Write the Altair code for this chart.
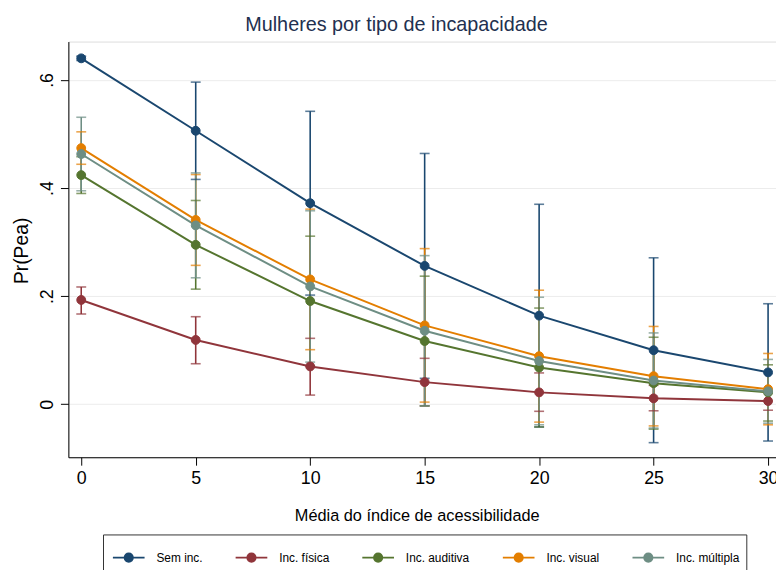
import altair as alt
import pandas as pd

# ---- data ----
x_vals = [0, 5, 10, 15, 20, 25, 30]
series = ["Sem inc.", "Inc. física", "Inc. auditiva", "Inc. visual", "Inc. múltipla"]
colors = ["#1a476f", "#90353b", "#55752f", "#e37e00", "#6e8e84"]

sem = [0.640, 0.506, 0.372, 0.256, 0.164, 0.100, 0.059]
sem_lo = [0.636, 0.416, 0.202, 0.048, -0.042, -0.071, -0.068]
sem_hi = [0.644, 0.596, 0.542, 0.464, 0.370, 0.271, 0.186]

fis = [0.193, 0.119, 0.070, 0.041, 0.022, 0.011, 0.006]
fis_lo = [0.167, 0.075, 0.017, -0.003, -0.013, -0.012, -0.011]
fis_hi = [0.217, 0.162, 0.122, 0.085, 0.058, 0.035, 0.023]

aud = [0.424, 0.295, 0.191, 0.117, 0.068, 0.039, 0.022]
aud_lo = [0.390, 0.213, 0.071, -0.003, -0.042, -0.046, -0.031]
aud_hi = [0.458, 0.377, 0.311, 0.237, 0.178, 0.124, 0.073]

vis = [0.474, 0.341, 0.231, 0.146, 0.089, 0.052, 0.028]
vis_lo = [0.444, 0.257, 0.101, 0.004, -0.033, -0.040, -0.038]
vis_hi = [0.504, 0.425, 0.361, 0.288, 0.211, 0.144, 0.094]

mul = [0.463, 0.331, 0.218, 0.136, 0.080, 0.044, 0.024]
mul_lo = [0.395, 0.234, 0.078, -0.003, -0.038, -0.044, -0.035]
mul_hi = [0.531, 0.428, 0.358, 0.275, 0.198, 0.132, 0.083]

y_ticks = [0, 0.2, 0.4, 0.6]
x_ticks = [0, 5, 10, 15, 20, 25, 30]

# ---- build table ----
rows = []
for k, (name, m, lo, hi) in enumerate(zip(series,
                                         [sem, fis, aud, vis, mul],
                                         [sem_lo, fis_lo, aud_lo, vis_lo, mul_lo],
                                         [sem_hi, fis_hi, aud_hi, vis_hi, mul_hi])):
    for i, xv in enumerate(x_vals):
        rows.append({"x": xv, "serie": name, "k": k,
                     "m": m[i], "lo": lo[i], "hi": hi[i]})
df = pd.DataFrame(rows)

FONT = "Liberation Sans"
sscale = alt.Scale(domain=series, range=colors)              # legend scale
kscale = alt.Scale(domain=list(range(len(series))), range=colors)  # same colours, no legend
xs = alt.Scale(domain=[-0.562, 30.346], nice=False, zero=False)
ys = alt.Scale(domain=[-0.098, 0.671], nice=False, zero=False)

legend_path = ("M-1,0L1,0M-0.26,0A0.26,0.26,0,1,1,0.26,0"
               "A0.26,0.26,0,1,1,-0.26,0Z")
leg = alt.Legend(orient="none", legendX=35, legendY=498, direction="horizontal",
                 title=None, symbolType=legend_path, symbolSize=1024,
                 symbolStrokeWidth=2, symbolOffset=3, labelFont=FONT, labelFontSize=12,
                 labelColor="#000", labelOffset=11, columnPadding=29,
                 padding=6, strokeColor="#333", fillColor="white")

xaxis = alt.Axis(values=x_ticks, title="Média do índice de acessibilidade",
                 labelFontSize=18, labelFont=FONT, labelColor="#000",
                 labelFlush=False, labelPadding=5, tickSize=8, tickColor="#000",
                 domainColor="#000", grid=False,
                 titleFont=FONT, titleFontSize=16.5, titleFontWeight="normal",
                 titleColor="#000", titleX=352, titleY=64,
                 titleAlign="center", titleBaseline="alphabetic")
yaxis = alt.Axis(values=y_ticks, title="Pr(Pea)",
                 labelExpr="datum.value == 0 ? '0' : replace(format(datum.value, '.1f'), '0.', '.')",
                 labelAngle=-90, labelAlign="center", labelBaseline="bottom",
                 labelFontSize=18, labelFont=FONT, labelColor="#000",
                 labelPadding=4, tickSize=8, tickColor="#000",
                 domainColor="#000", grid=True, gridColor="#ececec", gridWidth=1,
                 titleFont=FONT, titleFontSize=19.5, titleFontWeight="normal",
                 titleColor="#000", titleX=-47, titleY=211, titleAngle=270,
                 titleAlign="center", titleBaseline="middle")

base = alt.Chart(df)
kcolor = alt.Color("k:N", scale=kscale, legend=None)

rules = base.mark_rule(strokeWidth=1.6).encode(
    x=alt.X("x:Q", scale=xs, axis=xaxis),
    y=alt.Y("lo:Q", scale=ys, axis=yaxis),
    y2="hi:Q",
    color=kcolor,
    order="k:Q",
)
cap_lo = base.mark_tick(orient="horizontal", size=10, thickness=1.6).encode(
    x=alt.X("x:Q", scale=xs),
    y=alt.Y("lo:Q", scale=ys),
    color=kcolor,
    order="k:Q",
)
cap_hi = base.mark_tick(orient="horizontal", size=10, thickness=1.6).encode(
    x=alt.X("x:Q", scale=xs),
    y=alt.Y("hi:Q", scale=ys),
    color=kcolor,
    order="k:Q",
)
lines = base.mark_line(strokeWidth=2).encode(
    x=alt.X("x:Q", scale=xs),
    y=alt.Y("m:Q", scale=ys),
    color=kcolor,
    order="x:Q",
)
points = base.mark_point(filled=True, size=80, opacity=1, strokeWidth=1).encode(
    x=alt.X("x:Q", scale=xs),
    y=alt.Y("m:Q", scale=ys),
    fill=alt.Fill("serie:N", scale=sscale, legend=leg),
    stroke=alt.Stroke("serie:N", scale=sscale, legend=leg),
    order="k:Q",
)

chart = alt.layer(rules, cap_lo, cap_hi, lines, points).properties(
    width=715, height=420,
    autosize=alt.AutoSizeParams(type="none"),
    padding={"left": 61, "top": 31, "right": 0, "bottom": 111},
    title=alt.TitleParams("Mulheres por tipo de incapacidade", font=FONT,
                          fontSize=20, fontWeight="normal", color="#22304f",
                          anchor="middle", frame="group", dx=-26, offset=7),
).configure_view(stroke=None).configure(background="white")

chart.save("out.html", embed_options={"renderer": "svg", "actions": False})
